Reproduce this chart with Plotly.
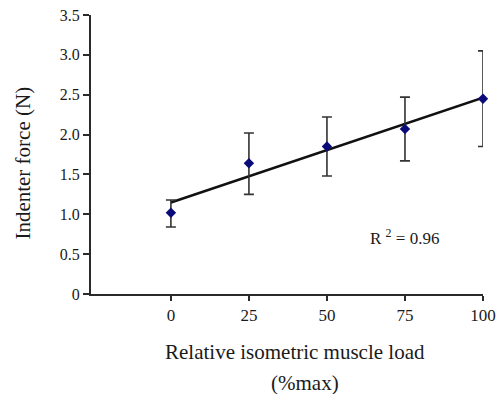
import numpy as np
import plotly.graph_objects as go

load = [0, 25, 50, 75, 100]
force = [1.02, 1.64, 1.85, 2.07, 2.45]
err_plus = [0.16, 0.38, 0.37, 0.40, 0.60]
err_minus = [0.18, 0.39, 0.37, 0.40, 0.60]
y_ticks = [0, 0.5, 1.0, 1.5, 2.0, 2.5, 3.0, 3.5]
y_tick_text = ["0", "0.5", "1.0", "1.5", "2.0", "2.5", "3.0", "3.5"]
x_ticks = [0, 25, 50, 75, 100]
r2_text = "R <sup>2</sup> = 0.96"
x_title_1 = "Relative isometric muscle load"
x_title_2 = "(%max)"
y_title = "Indenter force (N)"

slope, intercept = np.polyfit(load, force, 1)
fit_x = [load[0], load[-1]]
fit_y = [intercept + slope * v for v in fit_x]

font = "Liberation Serif"
ink = "#1a1a1a"

fig = go.Figure()
fig.add_trace(go.Scatter(
    x=fit_x, y=fit_y, mode="lines", cliponaxis=False,
    line=dict(color="#111111", width=2.5), showlegend=False, hoverinfo="skip"))
fig.add_trace(go.Scatter(
    x=load, y=force, mode="markers", cliponaxis=False,
    marker=dict(symbol="diamond", size=8, color="#0a0a78"),
    error_y=dict(type="data", array=err_plus, arrayminus=err_minus,
                 color="#333333", thickness=1.6, width=5),
    showlegend=False))

fig.add_annotation(x=0.80, y=0.715, xref="paper", yref="y", text=r2_text,
                   showarrow=False, xanchor="center", yanchor="middle",
                   font=dict(family=font, size=17, color=ink))
fig.add_annotation(x=0.52, y=-0.208, xref="paper", yref="paper",
                   text=x_title_1, showarrow=False, yanchor="middle",
                   font=dict(family=font, size=21, color=ink))
fig.add_annotation(x=0.546, y=-0.319, xref="paper", yref="paper",
                   text=x_title_2, showarrow=False, yanchor="middle",
                   font=dict(family=font, size=21, color=ink))
fig.add_annotation(x=-0.173, y=0.468, xref="paper", yref="paper",
                   text=y_title, showarrow=False, textangle=-90,
                   xanchor="center", yanchor="middle",
                   font=dict(family=font, size=21, color=ink))

fig.update_layout(
    width=499, height=394,
    margin=dict(l=91, r=16, t=15, b=100),
    paper_bgcolor="white", plot_bgcolor="white",
    font=dict(family=font, size=16, color=ink),
    xaxis=dict(range=[-25.6, 100], tickvals=x_ticks, showgrid=False,
               zeroline=False, showline=True, linecolor="#2a2a2a", linewidth=2,
               ticks="outside", ticklen=5, tickwidth=2, tickcolor="#2a2a2a",
               automargin=False,
               tickfont=dict(family=font, size=17, color=ink)),
    yaxis=dict(range=[0, 3.5], tickvals=y_ticks, ticktext=y_tick_text,
               showgrid=False, zeroline=False, showline=True,
               linecolor="#2a2a2a", linewidth=2, ticks="outside", ticklen=6,
               tickwidth=2, tickcolor="#2a2a2a", automargin=False,
               tickfont=dict(family=font, size=16, color=ink)),
)

fig.write_html("out.html")
